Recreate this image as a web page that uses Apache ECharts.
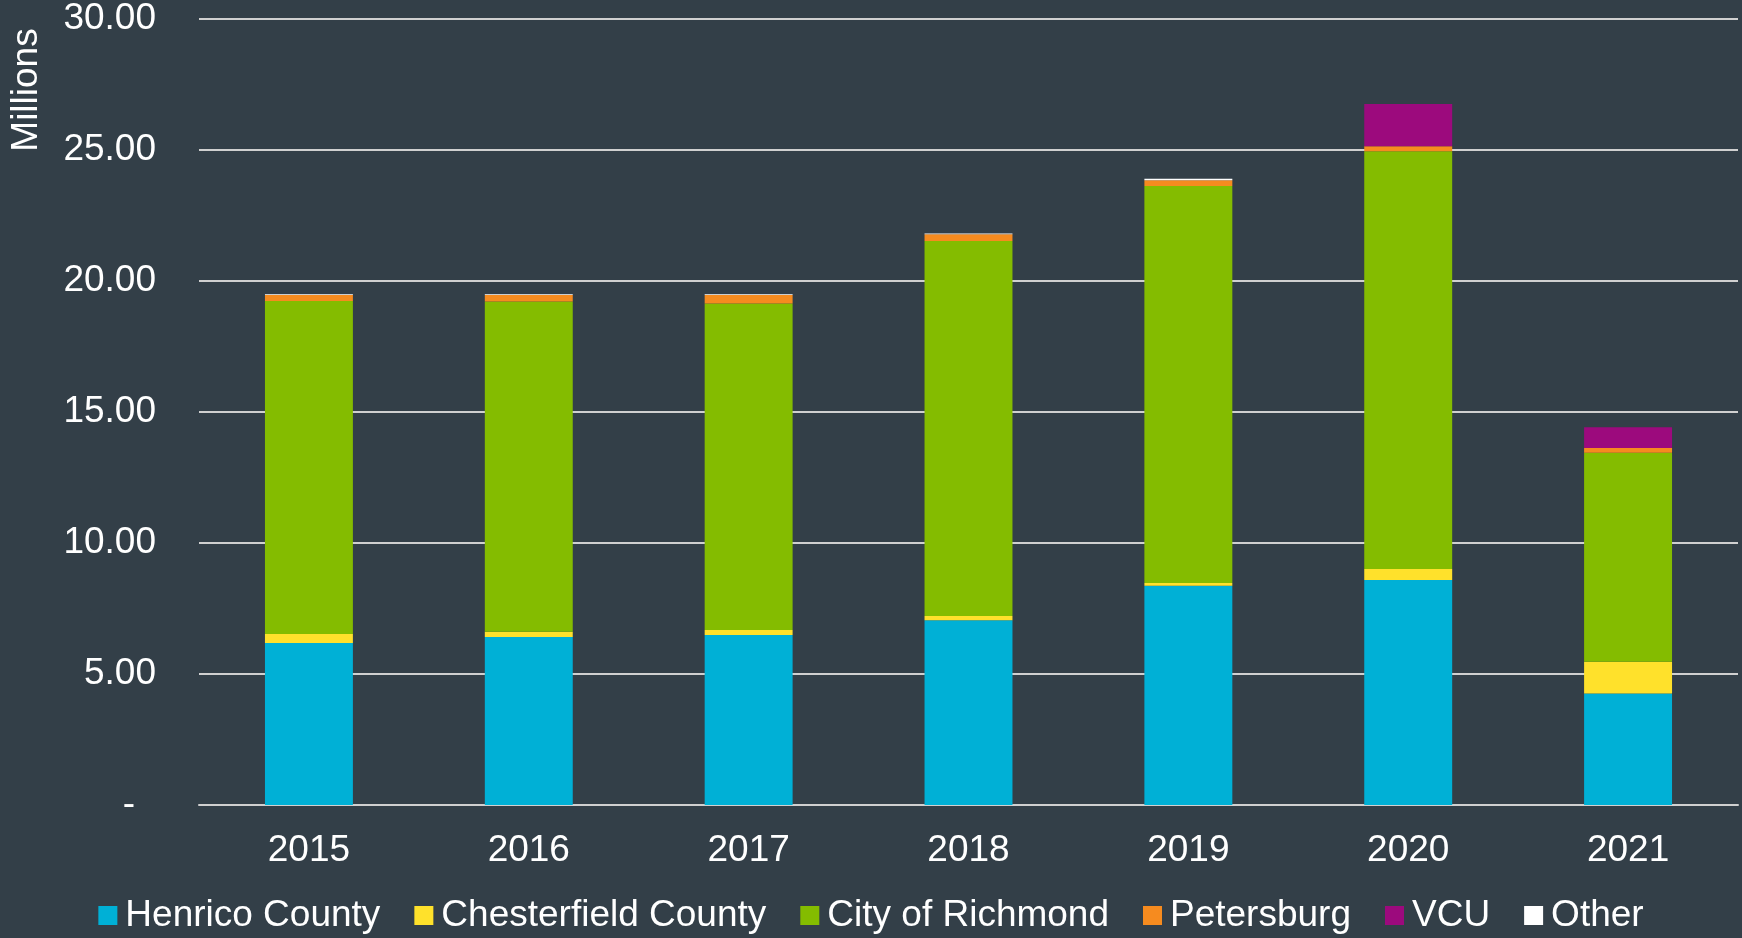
<!DOCTYPE html>
<html>
<head>
<meta charset="utf-8">
<script src="https://cdn.jsdelivr.net/npm/echarts@6/dist/echarts.min.js"></script>
<style>
html,body{margin:0;padding:0;background:#333f48;}
#chart{width:1742px;height:938px;}
</style>
</head>
<body>
<div id="chart"></div>
<script>
const years = ['2015','2016','2017','2018','2019','2020','2021'];
const henrico = [6.18, 6.41, 6.49, 7.05, 8.37, 8.59, 4.26];
const chesterfield = [0.35, 0.20, 0.19, 0.16, 0.10, 0.42, 1.21];
const richmond = [12.71, 12.61, 12.46, 14.32, 15.16, 15.94, 7.97];
const petersburg = [0.23, 0.25, 0.33, 0.25, 0.22, 0.19, 0.19];
const vcu = [0, 0, 0, 0, 0, 1.62, 0.79];
const other = [0.02, 0.02, 0.02, 0.03, 0.05, 0, 0];
const yTicks = [0, 5, 10, 15, 20, 25, 30];

const seriesDefs = [
  ['Henrico County', henrico, '#00b0d6'],
  ['Chesterfield County', chesterfield, '#ffe12b'],
  ['City of Richmond', richmond, '#84bc00'],
  ['Petersburg', petersburg, '#f68b1f'],
  ['VCU', vcu, '#9c0a7d'],
  ['Other', other, '#ffffff']
];

const font = '"Liberation Sans", Arial, sans-serif';
const fs = 37;
const chart = echarts.init(document.getElementById('chart'));
chart.setOption({
  backgroundColor: '#333f48',
  animation: false,
  textStyle: { fontFamily: font },
  grid: { left: 199, right: 4, top: 19, bottom: 133, containLabel: false },
  legend: {
    bottom: 4,
    left: 'center',
    icon: 'rect',
    itemWidth: 19,
    itemHeight: 19,
    itemGap: 34,
    padding: 0,
    textStyle: { color: '#ffffff', fontSize: fs, fontFamily: font, padding: [0, 0, 0, 3] },
    data: seriesDefs.map(d => d[0])
  },
  graphic: [{
    type: 'text',
    x: 27, y: 90,
    rotation: Math.PI / 2,
    style: {
      text: 'Millions',
      fill: '#ffffff',
      font: fs + 'px "Liberation Sans", Arial, sans-serif',
      textAlign: 'center',
      textVerticalAlign: 'middle'
    }
  }],
  xAxis: {
    type: 'category',
    data: years,
    axisLine: { show: true, lineStyle: { color: '#d0d0d0', width: 2 } },
    axisTick: { show: false },
    axisLabel: { color: '#ffffff', fontSize: fs, fontFamily: font, margin: 27 }
  },
  yAxis: {
    type: 'value',
    min: yTicks[0],
    max: yTicks[yTicks.length - 1],
    interval: 5,
    axisLine: { show: false },
    axisTick: { show: false },
    splitLine: { show: true, lineStyle: { color: '#d0d0d0', width: 2 } },
    axisLabel: {
      color: '#ffffff', fontSize: fs, fontFamily: font, margin: 43,
      formatter: v => v === 0 ? '{z|-}' : v.toFixed(2),
      rich: { z: { color: '#ffffff', fontSize: fs, fontFamily: font, padding: [0, 21, 0, 0] } }
    }
  },
  series: seriesDefs.map(d => ({
    name: d[0],
    type: 'bar',
    stack: 'total',
    barWidth: '40%',
    data: d[1],
    itemStyle: { color: d[2] }
  }))
});
</script>
</body>
</html>
